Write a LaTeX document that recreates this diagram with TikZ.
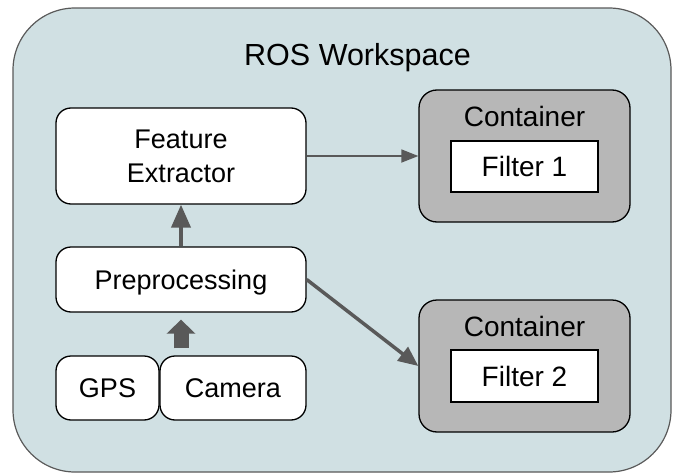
\documentclass[tikz,border=0pt]{standalone}
\usepackage{fontspec}
\setmainfont{Liberation Sans}
\usetikzlibrary{arrows.meta}
\definecolor{wsfill}{HTML}{D0E0E3}
\definecolor{wsline}{HTML}{595959}
\definecolor{ctfill}{HTML}{B7B7B7}
\definecolor{arr}{HTML}{595959}
\begin{document}
\begin{tikzpicture}[x=1pt,y=-1pt,
  wsbox/.style={draw=wsline,fill=wsfill,line width=1.2pt,rounded corners=62pt},
  procbox/.style={draw=black,fill=white,line width=1.3pt,rounded corners=15pt,inner sep=0pt,
    font=\fontsize{27}{34}\selectfont,text height=19.3pt,text depth=0pt},
  ctbox/.style={draw=black,fill=ctfill,line width=1.3pt,rounded corners=18pt,inner sep=0pt,
    minimum width=211pt,minimum height=132pt},
  filtbox/.style={draw=black,fill=white,line width=1.3pt,inner sep=0pt,
    minimum width=147pt,minimum height=51pt,
    font=\fontsize{28}{34}\selectfont,text height=20pt,text depth=0pt},
  ctlabel/.style={anchor=base,inner sep=0pt,font=\fontsize{28}{34}\selectfont},
  conn/.style={draw=arr,line width=#1},
]
\useasboundingbox (0,0) rectangle (673,474);
% workspace
\draw[wsbox] (13,8) rectangle (671,472);
\node[anchor=base,inner sep=0pt,font=\fontsize{30.5}{36}\selectfont] (title) at (357.5,65) {ROS Workspace};
% left column
\node[procbox,minimum width=250pt,minimum height=96pt,align=center,text height=,text depth=] (fe) at (181,156) {Feature\\Extractor};
\node[procbox,minimum width=250pt,minimum height=65pt] (pre) at (181,279.5) {Preprocessing};
\node[procbox,minimum width=103pt,minimum height=64pt] (gps) at (107.5,388) {GPS};
\node[procbox,minimum width=146pt,minimum height=64pt] (cam) at (233,388) {Camera};
% containers
\node[ctbox] (c1) at (524.5,156) {};
\node[ctlabel] (c1l) at (524.5,126) {Container};
\node[filtbox] (f1) at (524.5,166.5) {Filter 1};
\node[ctbox] (c2) at (524.5,366) {};
\node[ctlabel] (c2l) at (524.5,336) {Container};
\node[filtbox,minimum height=52pt] (f2) at (524.5,376) {Filter 2};
% connectors
\coordinate (src) at (pre.south |- cam.north);
\draw[draw=arr,line width=15pt,shorten <=7pt,shorten >=7pt,
  -{Triangle[length=14pt,width=28pt]},arr] (src) -- (pre.south);
\draw[draw=arr,line width=4pt,-{Triangle[length=23pt,width=19pt]},arr] (pre.north) -- (fe.south);
\draw[draw=arr,line width=1.8pt,-{Triangle[length=17pt,width=13pt]},arr] (fe.east) -- (c1.west);
\draw[draw=arr,line width=3.5pt,-{Triangle[length=20pt,width=17pt]},arr] (pre.east) -- (c2.west);
\end{tikzpicture}
\end{document}
